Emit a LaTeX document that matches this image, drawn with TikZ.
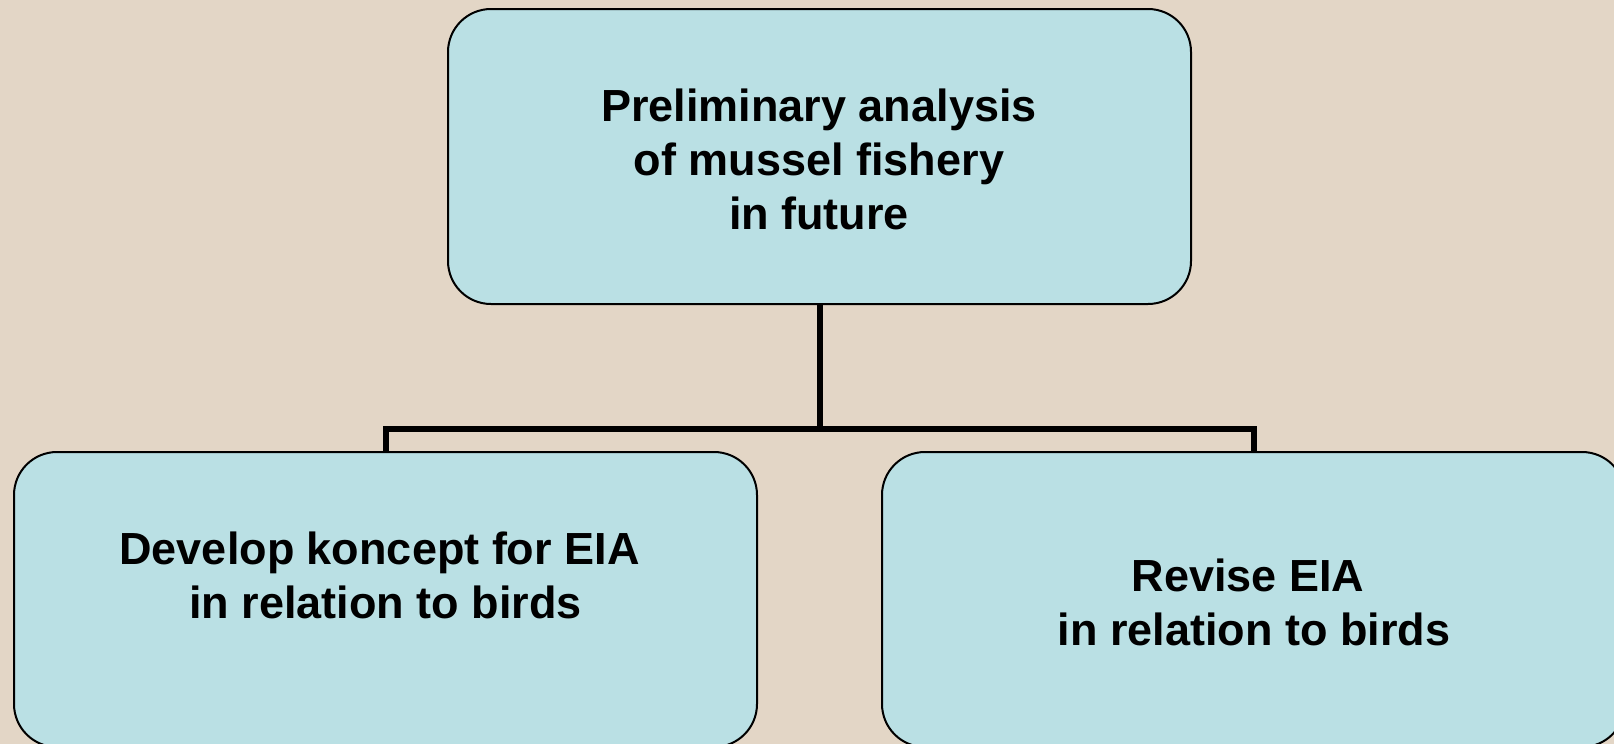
\documentclass[tikz,border=0pt]{standalone}
\usepackage{fontspec}
\setmainfont{Liberation Sans}
\definecolor{bgbeige}{RGB}{227,214,198}
\definecolor{boxblue}{RGB}{186,224,228}
\begin{document}
\begin{tikzpicture}[x=1pt,y=-1pt,
  box/.style={draw=black, line width=2pt, fill=boxblue, rounded corners=43pt,
    minimum width=743pt, minimum height=295pt, inner sep=0pt, outer sep=0pt},
  txt/.style={align=center, inner sep=0pt, font=\bfseries\fontsize{45}{54}\selectfont},
  conn/.style={draw=black, line width=6pt, line join=miter}]
\useasboundingbox (0,0) rectangle (1614,744);
\clip (0,0) rectangle (1614,744);
\fill[bgbeige] (0,0) rectangle (1614,744);
\coordinate (J) at (819.5,429);
\path (819.5,156.5) node[box, draw=none, fill=none] (Tb) {};
\path (385.5,599.5) node[box, draw=none, fill=none] (Lb) {};
\path (1253.5,599.5) node[box, draw=none, fill=none] (Rb) {};
\draw[conn] (Tb.south) -- (J);
\draw[conn] (Lb.north) |- (J) -| (Rb.north);
\node[box] (T) at (819.5,156.5) {};
\node[box] (L) at (385.5,599.5) {};
\node[box] (R) at (1253.5,599.5) {};
\node[txt] (Tt) at (819,159) {Preliminary analysis\\of mussel fishery\\in future};
\node[txt] (Lt) at (385.5,575.3) {Develop koncept for EIA\rule{12pt}{0pt}\\in relation to birds};
\node[txt] (Rt) at (1248,602) {Revise EIA\\\rule{12pt}{0pt}in relation to birds};
\end{tikzpicture}
\end{document}
